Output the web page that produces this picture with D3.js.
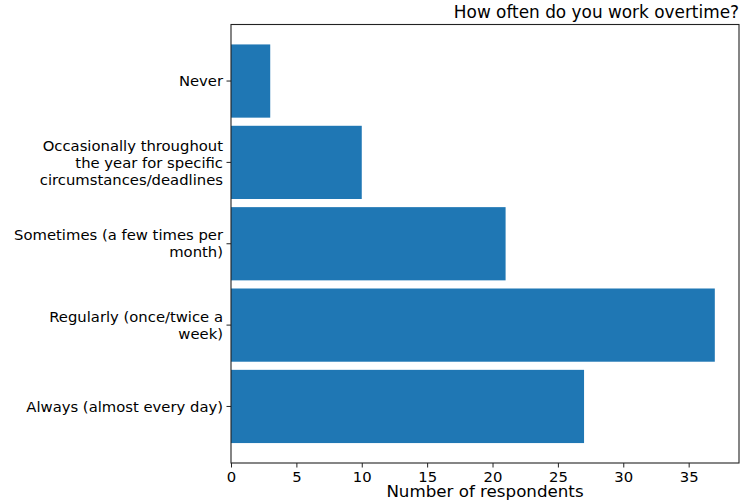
<!DOCTYPE html>
<html><head><meta charset="utf-8">
<script src="https://cdn.jsdelivr.net/npm/d3@7"></script>
<style>body{margin:0;background:#fff}svg{display:block}text{font-family:"DejaVu Sans",sans-serif;fill:#000}</style>
</head><body>
<svg id="c" width="746" height="502"></svg>
<script>
const categories = [
  "Always (almost every day)",
  "Regularly (once/twice a\nweek)",
  "Sometimes (a few times per\nmonth)",
  "Occasionally throughout\nthe year for specific\ncircumstances/deadlines",
  "Never"
];
const values = [27, 37, 21, 10, 3];
const xTicks = [0, 5, 10, 15, 20, 25, 30, 35];
const title = "How often do you work overtime?";
const xLabel = "Number of respondents";

const svg = d3.select("#c");
const L = 231, R = 739, T = 24.5, B = 463;
const xMax = d3.max(values) * 1.05;
const x = d3.scaleLinear().domain([0, xMax]).range([L, R]);
const n = categories.length;
const bh = 0.9;
const lo = -bh/2, hi = n - 1 + bh/2, pad = (hi - lo) * 0.05;
const y = d3.scaleLinear().domain([lo - pad, hi + pad]).range([B, T]);

svg.selectAll("rect.bar").data(values).join("rect")
  .attr("class","bar")
  .attr("x", x(0))
  .attr("y", (d,i) => y(i + bh/2))
  .attr("width", d => x(d) - x(0))
  .attr("height", (d,i) => y(i - bh/2) - y(i + bh/2))
  .attr("fill", "#1f77b4");

svg.append("rect").attr("x", L).attr("y", T).attr("width", R-L).attr("height", B-T)
  .attr("fill","none").attr("stroke","#222").attr("stroke-width",1.1);

// x axis
const xa = svg.append("g").attr("transform", `translate(0,${B})`)
  .call(d3.axisBottom(x).tickValues(xTicks).tickSize(4.5).tickPadding(3.5));
xa.select(".domain").remove();
xa.selectAll("text").style("font-size","14.8px").attr("fill","#000");
xa.selectAll("line").attr("stroke","#222");

// y axis ticks
const yg = svg.append("g");
categories.forEach((c, i) => {
  const yy = y(i);
  yg.append("line").attr("x1", L - 4.5).attr("x2", L).attr("y1", yy).attr("y2", yy).attr("stroke","#222");
  const lines = c.split("\n");
  const lh = 17;
  const t = yg.append("text").attr("text-anchor","end").style("font-size","14.8px")
    .attr("x", L - 8).attr("y", yy - (lines.length - 1) * lh / 2);
  lines.forEach((ln, k) => {
    t.append("tspan").attr("x", L - 8).attr("dy", k === 0 ? "0.35em" : lh).text(ln);
  });
});

svg.append("text").attr("x", R).attr("y", 18).attr("text-anchor","end")
  .style("font-size","16.9px").text(title);
svg.append("text").attr("x", (L+R)/2).attr("y", 497).attr("text-anchor","middle")
  .style("font-size","16.7px").text(xLabel);
</script>
</body></html>
